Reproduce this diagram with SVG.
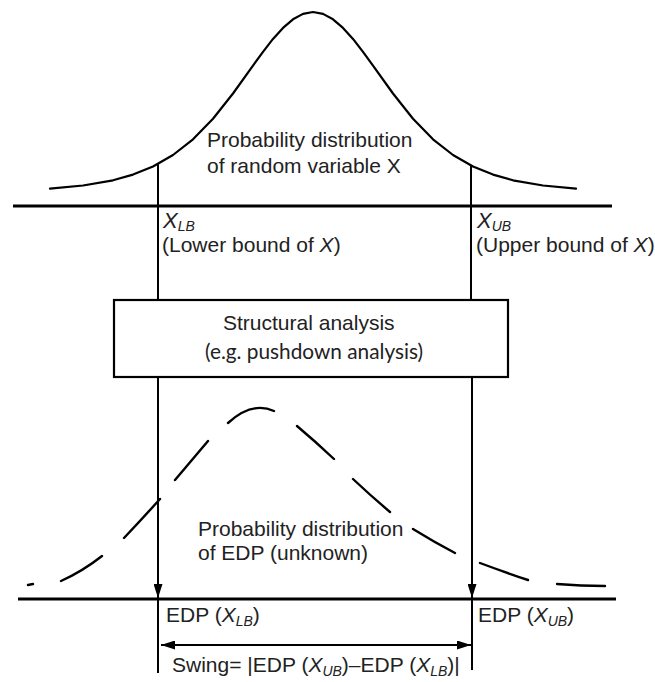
<svg xmlns="http://www.w3.org/2000/svg" width="655" height="682" viewBox="0 0 655 682">
<defs>
<style>
.t{font-family:"Liberation Sans",Arial,sans-serif;font-size:21px;fill:#222}
.i{font-style:italic}
.s{font-size:14px;font-style:italic}
.c{font-family:Lato,"Liberation Sans",sans-serif;font-size:21px;fill:#222}
.ln{stroke:#000;fill:none;stroke-width:2}
.ax{stroke:#000;fill:none;stroke-width:3}
.cv{stroke:#000;fill:none;stroke-width:2.2;stroke-linejoin:round;stroke-linecap:round}
.dash{stroke:#000;fill:none;stroke-width:2.4;stroke-linecap:round}
</style>
<marker id="ah" markerUnits="userSpaceOnUse" markerWidth="14" markerHeight="9" refX="14" refY="4.5" orient="auto-start-reverse">
<path d="M0,0 L14,4.5 L0,9 Z" fill="#000"/>
</marker>
</defs>
<rect width="655" height="682" fill="#fff"/>

<g id="dist-x">
<polyline class="cv" points="50,188.7 83,185.5 113,180.3 133,174.6 153,166.5 173,155 193,139.3 213,118.7 233,93.5 253,65.6 263,51.8 273,38.9 283,27.9 293,19.3 303,13.9 313,12 323,13.9 333,19.3 343,27.9 353,38.9 363,51.8 373,65.6 393,93.5 413,118.7 433,139.3 453,155 473,166.5 493,174.6 513,180.3 543,185.5 576,188.7"/>
<text class="t" x="207" y="147">Probability distribution</text>
<text class="t" x="207" y="173">of random variable X</text>
</g>

<g id="axis-x">
<line class="ax" x1="13" y1="206" x2="612" y2="206"/>
</g>

<g id="x-lb">
<text class="t" x="163" y="228"><tspan class="i" font-size="22">X</tspan><tspan class="s" dy="3">LB</tspan></text>
<text class="t" x="162" y="252">(Lower bound of <tspan class="i">X</tspan>)</text>
</g>

<g id="x-ub">
<text class="t" x="477" y="228"><tspan class="i" font-size="22">X</tspan><tspan class="s" dy="3">UB</tspan></text>
<text class="t" x="476" y="252">(Upper bound of <tspan class="i">X</tspan>)</text>
</g>

<g id="structural-analysis">
<rect x="114" y="300" width="394" height="77" fill="#fff" stroke="#000" stroke-width="2.2"/>
<text class="t" x="223" y="330">Structural analysis</text>
<text class="c" x="205" y="359" textLength="218" lengthAdjust="spacingAndGlyphs">(e.g. pushdown analysis)</text>
</g>

<g id="dist-edp">
<path class="dash" d="M28,585 L33,584 M61,581 Q83,571 102,556 M124,538 Q142,519 160,499 M175,480 Q191,461 208,441 M228,423 Q252,401 274,411 M297,426 Q316,442 334,459 M353,479 Q371,496 390,512 M413,529 Q434,542 455,553 M480,563 Q504,572 528,580 M557,584 Q581,586 605,586"/>
<text class="t" x="198" y="536">Probability distribution</text>
<text class="t" x="198" y="560">of EDP (unknown)</text>
</g>

<g id="axis-edp">
<line class="ax" x1="18" y1="599" x2="616" y2="599"/>
</g>

<g id="edp-lb">
<text class="t" x="166" y="622">EDP (<tspan class="i">X</tspan><tspan class="s" dy="4">LB</tspan><tspan dy="-4">)</tspan></text>
</g>

<g id="edp-ub">
<text class="t" x="478" y="622">EDP (<tspan class="i">X</tspan><tspan class="s" dy="4">UB</tspan><tspan dy="-4">)</tspan></text>
</g>

<g id="swing">
<text class="t" x="172" y="672">Swing= |EDP (<tspan class="i">X</tspan><tspan class="s" dy="4">UB</tspan><tspan dy="-4">)–EDP (</tspan><tspan class="i">X</tspan><tspan class="s" dy="4">LB</tspan><tspan dy="-4">)|</tspan></text>
</g>

<g id="connectors">
<line class="ln" x1="158" y1="163" x2="158" y2="300"/>
<line class="ln" x1="471" y1="165" x2="471" y2="300"/>
<line class="ln" x1="158" y1="377" x2="158" y2="598" marker-end="url(#ah)"/>
<line class="ln" x1="472" y1="377" x2="472" y2="598" marker-end="url(#ah)"/>
<line class="ln" x1="158" y1="599" x2="158" y2="673"/>
<line class="ln" x1="472" y1="599" x2="472" y2="670"/>
<line class="ln" x1="161" y1="645" x2="471" y2="645" stroke-width="2.6" marker-start="url(#ah)" marker-end="url(#ah)"/>
</g>
</svg>
